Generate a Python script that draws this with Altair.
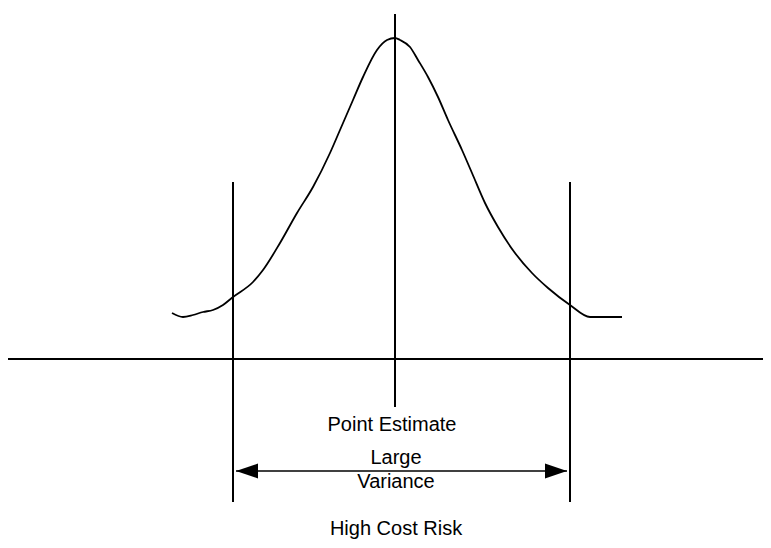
import altair as alt
import pandas as pd

# Bell-shaped cost distribution curve
curve_x = [172, 183, 193, 203, 213, 223, 233, 253, 263, 280, 297, 313, 330, 340,
           353, 363, 377, 387, 395, 400, 410, 418, 428, 438, 448, 462, 472, 485,
           498, 515, 532, 548, 570, 590, 622]
curve_y = [313, 317, 315, 312, 310, 305, 297, 282, 270, 243, 213, 187, 153, 130,
           100, 77, 50, 40, 38, 40, 47, 60, 77, 97, 120, 150, 173, 203,
           227, 253, 273, 288, 305, 317, 317]

# Vertical marker lines: left bound, point estimate, right bound
vline_x = [233, 395, 570]
vline_top = [182, 14, 182]
vline_bottom = [502, 407, 502]

# Horizontal baseline
base_y = [359]
base_x1 = [8]
base_x2 = [771]

# Variance arrow
arrow_y = [471]
arrow_x1 = [236]
arrow_x2 = [567]
head_left_x = [247]
head_right_x = [556]

# Labels
labels = ["Point Estimate", "Large", "Variance", "High Cost Risk"]
label_x = [392, 396, 396, 396]
label_y = [431, 464, 488, 535]

xs = alt.Scale(domain=[8, 763], nice=False, zero=False)
ys = alt.Scale(domain=[8, 540], reverse=True, nice=False, zero=False)

curve_df = pd.DataFrame({"x": curve_x, "y": curve_y})
vline_df = pd.DataFrame({"x": vline_x, "y": vline_top, "y2": vline_bottom})
base_df = pd.DataFrame({"y": base_y, "x": base_x1, "x2": base_x2})
arrow_df = pd.DataFrame({"y": arrow_y, "x": arrow_x1, "x2": arrow_x2})
hl_df = pd.DataFrame({"x": head_left_x, "y": arrow_y})
hr_df = pd.DataFrame({"x": head_right_x, "y": arrow_y})
label_df = pd.DataFrame({"t": labels, "x": label_x, "y": label_y})

X = lambda f="x": alt.X(f, type="quantitative", scale=xs, axis=None)
Y = lambda f="y": alt.Y(f, type="quantitative", scale=ys, axis=None)

curve = alt.Chart(curve_df).mark_line(
    color="black", strokeWidth=1.8, interpolate="monotone", clip=False
).encode(x=X(), y=Y(), order="x:Q")

vlines = alt.Chart(vline_df).mark_rule(color="black", strokeWidth=2).encode(
    x=X(), y=Y(), y2="y2:Q"
)

base = alt.Chart(base_df).mark_rule(color="black", strokeWidth=2).encode(
    y=Y(), x=X(), x2="x2:Q"
)

arrow = alt.Chart(arrow_df).mark_rule(color="black", strokeWidth=1.6).encode(
    y=Y(), x=X(), x2="x2:Q"
)

head_l = alt.Chart(hl_df).mark_point(
    shape="M-1,0L1,-0.68L1,0.68Z", size=484, filled=True, color="black", opacity=1
).encode(x=X(), y=Y())

head_r = alt.Chart(hr_df).mark_point(
    shape="M1,0L-1,-0.68L-1,0.68Z", size=484, filled=True, color="black", opacity=1
).encode(x=X(), y=Y())

text = alt.Chart(label_df).mark_text(
    font="Liberation Sans", fontSize=20, align="center", baseline="alphabetic",
    color="black"
).encode(x=X(), y=Y(), text="t:N")

chart = alt.layer(curve, vlines, base, arrow, head_l, head_r, text).properties(
    width=755, height=532, padding=0, background="white",
    autosize=alt.AutoSizeParams(type="none")
).configure_view(stroke=None)

chart.save("out.html", embed_options={"renderer": "svg", "actions": False})
